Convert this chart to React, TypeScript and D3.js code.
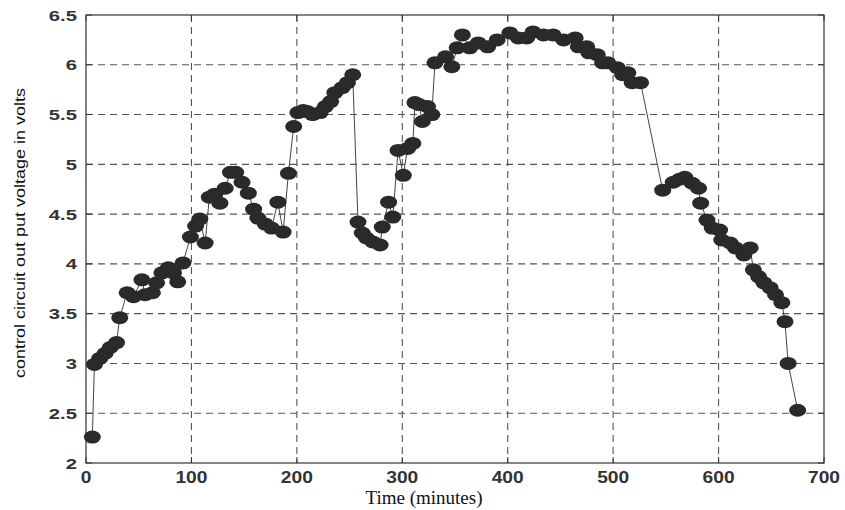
import React from "react";
import * as d3 from "d3";

const times = [6, 8, 13, 18, 23, 29, 32, 39, 45, 53, 56, 63, 67, 72, 78, 83, 87, 92, 99, 104, 108, 113, 117, 122, 127, 132, 137, 142, 148, 154, 159, 163, 170, 176, 182, 187, 192, 197, 201, 206, 210, 215, 222, 227, 232, 236, 243, 248, 253, 258, 262, 266, 272, 279, 281, 287, 291, 296, 301, 305, 310, 312, 316, 319, 324, 328, 331, 341, 347, 352, 357, 364, 372, 381, 390, 402, 410, 418, 424, 434, 443, 453, 464, 467, 475, 477, 485, 490, 495, 504, 509, 514, 518, 526, 547, 557, 563, 568, 575, 581, 583, 589, 594, 601, 603, 611, 616, 624, 630, 633, 638, 643, 649, 654, 660, 663, 666, 675];
const volts = [2.26, 2.99, 3.05, 3.1, 3.16, 3.21, 3.46, 3.71, 3.67, 3.84, 3.69, 3.71, 3.81, 3.91, 3.96, 3.91, 3.82, 4.01, 4.27, 4.38, 4.45, 4.21, 4.67, 4.7, 4.61, 4.76, 4.92, 4.92, 4.82, 4.71, 4.55, 4.46, 4.4, 4.36, 4.62, 4.32, 4.91, 5.38, 5.52, 5.54, 5.53, 5.5, 5.52, 5.58, 5.63, 5.72, 5.77, 5.82, 5.9, 4.42, 4.31, 4.26, 4.22, 4.19, 4.37, 4.62, 4.47, 5.14, 4.89, 5.16, 5.21, 5.62, 5.6, 5.43, 5.58, 5.5, 6.02, 6.08, 5.98, 6.17, 6.3, 6.17, 6.22, 6.18, 6.25, 6.32, 6.27, 6.27, 6.33, 6.3, 6.3, 6.25, 6.27, 6.18, 6.18, 6.12, 6.1, 6.02, 6.02, 5.97, 5.9, 5.92, 5.82, 5.82, 4.74, 4.82, 4.85, 4.87, 4.81, 4.76, 4.61, 4.44, 4.36, 4.34, 4.24, 4.21, 4.16, 4.09, 4.16, 3.94, 3.87, 3.81, 3.76, 3.69, 3.61, 3.42, 3.0, 2.53];

const xTicks = [0, 100, 200, 300, 400, 500, 600, 700];
const yTicks = [2, 2.5, 3, 3.5, 4, 4.5, 5, 5.5, 6, 6.5];
const xLabel = "Time (minutes)";
const yLabel = "control circuit out put voltage in volts";

export default function App() {
  const W = 845, H = 510;
  const left = 86, right = 824, top = 15, bottom = 463;
  const x = d3.scaleLinear().domain([0, 700]).range([left, right]);
  const y = d3.scaleLinear().domain([2, 6.5]).range([bottom, top]);
  const pts = times.map((t, i) => [t, volts[i]] as [number, number]);
  const line = d3.line<[number, number]>().x(d => x(d[0])).y(d => y(d[1]));
  const sans = "Liberation Sans, Arial, sans-serif";
  return (
    <svg width={W} height={H} style={{ position: "absolute", left: 0, top: 0, background: "#fff" }}>
      <rect x={0} y={0} width={W} height={H} fill="#fff" />
      {xTicks.slice(1, -1).map(t => (
        <line key={"gx" + t} x1={x(t)} x2={x(t)} y1={top} y2={bottom} stroke="#555" strokeWidth={1.1} strokeDasharray="7,5" />
      ))}
      {yTicks.slice(1, -1).map(t => (
        <line key={"gy" + t} x1={left} x2={right} y1={y(t)} y2={y(t)} stroke="#555" strokeWidth={1.1} strokeDasharray="7,5" />
      ))}
      <rect x={left} y={top} width={right - left} height={bottom - top} fill="none" stroke="#333" strokeWidth={1.2} />
      {xTicks.map(t => (
        <g key={"tx" + t}>
          <line x1={x(t)} x2={x(t)} y1={bottom} y2={bottom - 6} stroke="#333" />
          <line x1={x(t)} x2={x(t)} y1={top} y2={top + 6} stroke="#333" />
          <text transform={`translate(${x(t)}, ${bottom + 20}) scale(1.2, 1)`} textAnchor="middle" fontFamily={sans} fontSize={16} fontWeight="bold" fill="#333">{t}</text>
        </g>
      ))}
      {yTicks.map(t => (
        <g key={"ty" + t}>
          <line x1={left} x2={left + 6} y1={y(t)} y2={y(t)} stroke="#333" />
          <line x1={right} x2={right - 6} y1={y(t)} y2={y(t)} stroke="#333" />
          <text transform={`translate(${left - 9}, ${y(t) + 5.5}) scale(1.35, 1)`} textAnchor="end" fontFamily={sans} fontSize={15} fontWeight="bold" fill="#333">{t}</text>
        </g>
      ))}
      <path d={line(pts) || ""} fill="none" stroke="#444" strokeWidth={1} />
      {pts.map((p, i) => (
        <ellipse key={i} cx={x(p[0])} cy={y(p[1])} rx={8.5} ry={6.5} fill="#2a2a2a" />
      ))}
      <text x={424} y={504} textAnchor="middle" fontFamily="Liberation Serif, Times New Roman, serif" fontSize={19} fill="#111">{xLabel}</text>
      <text transform={`translate(25, 233) rotate(-90)`} textAnchor="middle" fontFamily={sans} fontSize={15} textLength={290} lengthAdjust="spacingAndGlyphs" fill="#111">{yLabel}</text>
    </svg>
  );
}
